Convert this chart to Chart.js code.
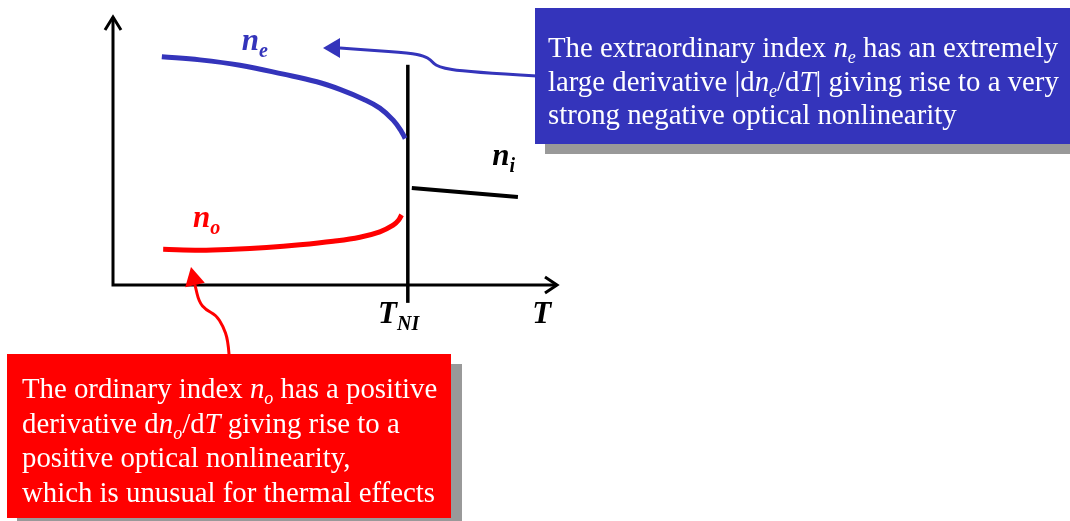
<!DOCTYPE html>
<html>
<head>
<meta charset="utf-8">
<script src="https://cdn.jsdelivr.net/npm/chart.js@4"></script>
<style>
  html, body { margin: 0; padding: 0; background: #fff; }
  #wrap { width: 1070px; height: 521px; }
</style>
</head>
<body>
<div id="wrap"><canvas id="grafico" width="1070" height="521"></canvas></div>
<script>
// Temperatura (unidades arbitrarias) e indices de refraccion
var neT = [1.10, 1.96, 2.86, 3.84, 4.59, 5.11, 5.64, 6.01, 6.31, 6.50, 6.58];
var neN = [5.11, 5.04, 4.92, 4.72, 4.55, 4.38, 4.16, 3.96, 3.69, 3.43, 3.28];

var noT = [1.13, 1.96, 2.71, 3.46, 4.21, 4.96, 5.56, 6.01, 6.31, 6.43, 6.50];
var noN = [0.80, 0.78, 0.80, 0.84, 0.90, 0.98, 1.07, 1.19, 1.34, 1.45, 1.57];

var niT = [6.73, 9.12];
var niN = [2.17, 1.97];

// linea vertical en T_NI
var tniT = [6.64, 6.64];
var tniN = [-0.40, 4.93];

// etiquetas
var etiquetas = [
    { base: "n", sub: "e", color: "#3434bb", T: 2.90, n: 5.26 },
    { base: "n", sub: "o", color: "#ff0000", T: 1.80, n: 1.30 },
    { base: "n", sub: "i", color: "#000000", T: 8.54, n: 2.69 },
    { base: "T", sub: "NI", color: "#000000", T: 5.97, n: -0.85 },
    { base: "T", sub: "", color: "#000000", T: 9.44, n: -0.85 }
];

// texto de los recuadros: [texto, tipo] r=normal, i=italica, s=subindice
var textoAzul = [
    [["The extraordinary index ", "r"], ["n", "i"], ["e", "s"], [" has an extremely", "r"]],
    [["large derivative |d", "r"], ["n", "i"], ["e", "s"], ["/d", "r"], ["T", "i"], ["| giving rise to a very", "r"]],
    [["strong negative optical nonlinearity", "r"]]
];
var textoRojo = [
    [["The ordinary index ", "r"], ["n", "i"], ["o", "s"], [" has a positive", "r"]],
    [["derivative d", "r"], ["n", "i"], ["o", "s"], ["/d", "r"], ["T", "i"], [" giving rise to a", "r"]],
    [["positive optical nonlinearity,", "r"]],
    [["which is unusual for thermal effects", "r"]]
];

function puntos(xs, ys) {
    return xs.map(function (x, i) { return { x: x, y: ys[i] }; });
}

function textoRico(ctx, x, y, partes, size, bold) {
    var b = bold ? "bold " : "";
    partes.forEach(function (p) {
        var dy = 0;
        if (p[1] === "i") ctx.font = "italic " + b + size + "px 'Liberation Serif'";
        else if (p[1] === "s") { ctx.font = "italic " + b + Math.round(size * 0.64) + "px 'Liberation Serif'"; dy = size * 0.22; }
        else ctx.font = b + size + "px 'Liberation Serif'";
        ctx.fillText(p[0], x, y + dy);
        x += ctx.measureText(p[0]).width;
    });
}

function flecha(ctx, camino, punta, color) {
    ctx.strokeStyle = color;
    ctx.fillStyle = color;
    ctx.lineWidth = 3;
    ctx.beginPath();
    ctx.moveTo(camino[0][0], camino[0][1]);
    for (var i = 1; i < camino.length - 1; i++) {
        var mx = (camino[i][0] + camino[i + 1][0]) / 2;
        var my = (camino[i][1] + camino[i + 1][1]) / 2;
        ctx.quadraticCurveTo(camino[i][0], camino[i][1], mx, my);
    }
    var u = camino[camino.length - 1];
    ctx.lineTo(u[0], u[1]);
    ctx.stroke();
    // cabeza
    var ang = Math.atan2(punta[1] - u[1], punta[0] - u[0]);
    var w = 10;
    ctx.beginPath();
    ctx.moveTo(punta[0], punta[1]);
    ctx.lineTo(u[0] + w * Math.cos(ang + Math.PI / 2), u[1] + w * Math.sin(ang + Math.PI / 2));
    ctx.lineTo(u[0] + w * Math.cos(ang - Math.PI / 2), u[1] + w * Math.sin(ang - Math.PI / 2));
    ctx.closePath();
    ctx.fill();
}

var decoracion = {
    id: "decoracion",
    beforeDatasetsDraw: function (chart) {
        var ctx = chart.ctx;
        var a = chart.chartArea;
        ctx.save();
        ctx.strokeStyle = "#000";
        ctx.lineWidth = 3;
        ctx.lineJoin = "miter";
        ctx.beginPath();
        ctx.moveTo(a.left, a.top);
        ctx.lineTo(a.left, a.bottom);
        ctx.lineTo(a.right, a.bottom);
        ctx.stroke();
        // puntas de los ejes
        ctx.beginPath();
        ctx.moveTo(a.left - 8, a.top + 13);
        ctx.lineTo(a.left, a.top);
        ctx.lineTo(a.left + 8, a.top + 13);
        ctx.moveTo(a.right - 12, a.bottom - 8);
        ctx.lineTo(a.right, a.bottom);
        ctx.lineTo(a.right - 12, a.bottom + 8);
        ctx.stroke();
        ctx.restore();
    },
    afterDraw: function (chart) {
        var ctx = chart.ctx;
        var xs = chart.scales.x, ys = chart.scales.y;
        ctx.save();
        ctx.textBaseline = "alphabetic";
        ctx.textAlign = "left";

        // etiquetas de las curvas y del eje
        etiquetas.forEach(function (e) {
            ctx.fillStyle = e.color;
            var partes = [[e.base, "i"]];
            if (e.sub) partes.push([e.sub, "s"]);
            textoRico(ctx, xs.getPixelForValue(e.T), ys.getPixelForValue(e.n), partes, 31, true);
        });

        // flechas de los recuadros
        flecha(ctx, [[537, 76], [467, 72], [437, 67], [431, 60], [424, 56], [410, 53], [367, 50], [340, 48]], [323, 48], "#3434bb");
        flecha(ctx, [[229, 354], [228, 340], [223, 326], [216, 315], [206, 310], [199, 302], [195, 285]], [191, 267], "#ff0000");

        // recuadro azul
        ctx.fillStyle = "#999999";
        ctx.fillRect(545, 18, 530, 136);
        ctx.fillStyle = "#3434bb";
        ctx.fillRect(535, 8, 540, 136);
        ctx.fillStyle = "#ffffff";
        textoAzul.forEach(function (l, i) {
            textoRico(ctx, 548, 57 + i * 33.5, l, 28.8, false);
        });

        // recuadro rojo
        ctx.fillStyle = "#999999";
        ctx.fillRect(17, 364, 445, 170);
        ctx.fillStyle = "#ff0000";
        ctx.fillRect(7, 354, 444, 164);
        ctx.fillStyle = "#ffffff";
        textoRojo.forEach(function (l, i) {
            textoRico(ctx, 22, 398 + i * 34.5, l, 28.8, false);
        });
        ctx.restore();
    }
};

var ctx = document.getElementById("grafico").getContext("2d");
var grafico = new Chart(ctx, {
    type: "scatter",
    data: {
        datasets: [
            { label: "ne", data: puntos(neT, neN), borderColor: "#3434bb", borderWidth: 5 },
            { label: "no", data: puntos(noT, noN), borderColor: "#ff0000", borderWidth: 5 },
            { label: "ni", data: puntos(niT, niN), borderColor: "#000000", borderWidth: 4 },
            { label: "TNI", data: puntos(tniT, tniN), borderColor: "#000000", borderWidth: 3.5 }
        ]
    },
    options: {
        responsive: false,
        animation: false,
        devicePixelRatio: 1,
        layout: { padding: { left: 113, right: 513, top: 17, bottom: 236 } },
        datasets: {
            scatter: { showLine: true, pointRadius: 0, tension: 0.4, clip: false }
        },
        scales: {
            x: { type: "linear", min: 0, max: 10, display: false },
            y: { type: "linear", min: 0, max: 6, display: false }
        },
        plugins: {
            legend: { display: false },
            tooltip: { enabled: false }
        }
    },
    plugins: [decoracion]
});
</script>
</body>
</html>
